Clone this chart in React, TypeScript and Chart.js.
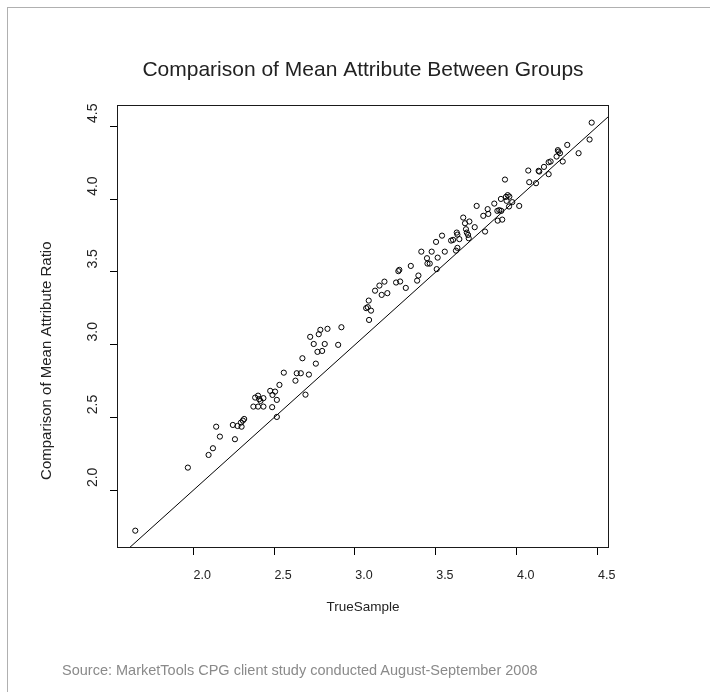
import React, { useEffect, useRef } from "react";
import { Chart, registerables } from "chart.js";

Chart.register(...registerables);

const trueSample: number[] = [
  1.642, 1.967, 2.095, 2.122, 2.142, 2.165, 2.258, 2.245, 2.274, 2.299,
  2.295, 2.307, 2.315, 2.372, 2.401, 2.434, 2.383, 2.401, 2.408, 2.416,
  2.434, 2.476, 2.490, 2.506, 2.517, 2.488, 2.517, 2.533, 2.560, 2.632,
  2.640, 2.665, 2.715, 2.694, 2.675, 2.758, 2.723, 2.745, 2.768, 2.776,
  2.786, 2.797, 2.813, 2.830, 2.896, 2.916, 3.087, 3.069, 3.079, 3.099,
  3.085, 3.124, 3.151, 3.165, 3.182, 3.200, 3.254, 3.279, 3.268, 3.274,
  3.314, 3.345, 3.384, 3.392, 3.410, 3.445, 3.448, 3.462, 3.474, 3.505,
  3.511, 3.501, 3.538, 3.555, 3.594, 3.606, 3.629, 3.633, 3.645, 3.624,
  3.633, 3.669, 3.680, 3.686, 3.691, 3.699, 3.703, 3.707, 3.740, 3.752,
  3.793, 3.804, 3.820, 3.824, 3.861, 3.880, 3.892, 3.904, 3.882, 3.910,
  3.902, 3.927, 3.933, 3.944, 3.954, 3.937, 3.952, 3.972, 4.015, 4.071,
  4.077, 4.119, 4.135, 4.139, 4.168, 4.197, 4.197, 4.209, 4.246, 4.254,
  4.258, 4.267, 4.284, 4.312, 4.382, 4.450, 4.463,
];

const attributeRatio: number[] = [
  1.723, 2.156, 2.243, 2.289, 2.437, 2.369, 2.351, 2.449, 2.442, 2.437,
  2.465, 2.479, 2.490, 2.575, 2.575, 2.575, 2.637, 2.650, 2.626, 2.614,
  2.633, 2.683, 2.655, 2.678, 2.621, 2.571, 2.504, 2.724, 2.808, 2.753,
  2.804, 2.804, 2.795, 2.657, 2.907, 2.870, 3.054, 3.005, 2.951, 3.072,
  3.102, 2.957, 3.005, 3.109, 2.999, 3.120, 3.170, 3.251, 3.258, 3.234,
  3.303, 3.371, 3.406, 3.342, 3.433, 3.354, 3.427, 3.434, 3.505, 3.514,
  3.390, 3.541, 3.440, 3.475, 3.639, 3.594, 3.557, 3.557, 3.639, 3.519,
  3.598, 3.706, 3.749, 3.639, 3.715, 3.720, 3.770, 3.756, 3.725, 3.646,
  3.665, 3.873, 3.834, 3.793, 3.770, 3.754, 3.731, 3.846, 3.807, 3.953,
  3.885, 3.777, 3.931, 3.898, 3.969, 3.919, 3.924, 3.919, 3.852, 3.859,
  4.001, 4.134, 4.015, 4.027, 4.017, 3.988, 3.949, 3.979, 3.953, 4.196,
  4.116, 4.109, 4.194, 4.189, 4.221, 4.171, 4.253, 4.258, 4.292, 4.336,
  4.326, 4.315, 4.258, 4.372, 4.315, 4.409, 4.525,
];

const xTicks: number[] = [2.0, 2.5, 3.0, 3.5, 4.0, 4.5];
const yTicks: number[] = [2.0, 2.5, 3.0, 3.5, 4.0, 4.5];
const identityLine: number[] = [1.0, 5.0];

const xRange: number[] = [1.529, 4.570];
const yRange: number[] = [1.604, 4.646];

const chartTitle = "Comparison of Mean Attribute Between Groups";
const xTitle = "TrueSample";
const yTitle = "Comparison of Mean Attribute Ratio";
const sourceNote = "Source: MarketTools CPG client study conducted August-September 2008";

const FONT = "'Liberation Sans', Arial, Helvetica, sans-serif";

const boxPlugin = {
  id: "plotBox",
  afterDraw(chart: any) {
    const { ctx, chartArea } = chart;
    ctx.save();
    ctx.strokeStyle = "#1a1a1a";
    ctx.lineWidth = 1;
    const l = Math.round(chartArea.left) + 0.5;
    const t = Math.round(chartArea.top) + 0.5;
    const r = Math.round(chartArea.right) - 0.5;
    const b = Math.round(chartArea.bottom) - 0.5;
    ctx.strokeRect(l, t, r - l, b - t);

    const yScale = chart.scales.y;
    ctx.fillStyle = "#222";
    ctx.textAlign = "center";
    ctx.textBaseline = "middle";
    // rotated y tick labels
    ctx.font = `14px ${FONT}`;
    yTicks.forEach((v) => {
      const py = yScale.getPixelForValue(v);
      ctx.save();
      ctx.translate(93, py - 13);
      ctx.rotate(-Math.PI / 2);
      ctx.fillText(v.toFixed(1), 0, 0);
      ctx.restore();
    });
    // y axis title
    ctx.font = `15px ${FONT}`;
    const midY = yScale.getPixelForValue(2.89);
    ctx.save();
    ctx.translate(47, midY);
    ctx.rotate(-Math.PI / 2);
    ctx.fillText(yTitle, 0, 0);
    ctx.restore();
    ctx.restore();
  },
};

export default function App() {
  const canvasRef = useRef<HTMLCanvasElement | null>(null);

  useEffect(() => {
    const canvas = canvasRef.current;
    if (!canvas) return;
    const points = trueSample.map((x, i) => ({ x, y: attributeRatio[i] }));
    const linePts = identityLine.map((v) => ({ x: v, y: v }));

    const chart = new Chart(canvas, {
      type: "scatter",
      data: {
        datasets: [
          {
            data: points,
            pointStyle: "circle",
            pointRadius: 2.6,
            pointBorderWidth: 1,
            pointBorderColor: "#000",
            pointBackgroundColor: "rgba(0,0,0,0)",
            borderColor: "#000",
            backgroundColor: "rgba(0,0,0,0)",
            showLine: false,
          },
          {
            type: "line",
            data: linePts,
            borderColor: "#000",
            borderWidth: 1,
            pointRadius: 0,
            fill: false,
          } as any,
        ],
      },
      options: {
        animation: false,
        responsive: false,
        devicePixelRatio: 1,
        events: [],
        layout: { padding: { left: 0, right: 101, top: 0, bottom: 0 } },
        plugins: {
          legend: { display: false },
          tooltip: { enabled: false },
          title: {
            display: true,
            text: chartTitle,
            fullSize: false,
            color: "#222",
            font: { family: FONT, size: 21, weight: "normal" as any },
            padding: { top: 58, bottom: 21.8 },
          },
        },
        scales: {
          x: {
            type: "linear",
            position: "bottom",
            min: xRange[0],
            max: xRange[1],
            afterBuildTicks: (scale: any) => {
              scale.ticks = xTicks.map((v) => ({ value: v }));
            },
            afterFit: (scale: any) => {
              scale.height = 144;
              scale.paddingLeft = 0;
              scale.paddingRight = 0;
            },
            ticks: {
              color: "#222",
              font: { family: FONT, size: 12.5 },
              padding: 13,
              labelOffset: 9,
              maxRotation: 0,
              minRotation: 0,
              callback: (v: any) => Number(v).toFixed(1),
            },
            grid: {
              display: true,
              drawOnChartArea: false,
              drawTicks: true,
              tickLength: 7,
              color: "#000",
              lineWidth: 1,
            },
            border: { display: false },
            title: {
              display: true,
              text: xTitle,
              color: "#222",
              font: { family: FONT, size: 13.5 },
              padding: { top: 0, bottom: 77 },
            },
          },
          y: {
            type: "linear",
            position: "left",
            min: yRange[0],
            max: yRange[1],
            afterBuildTicks: (scale: any) => {
              scale.ticks = yTicks.map((v) => ({ value: v }));
            },
            afterFit: (scale: any) => {
              scale.width = 117;
              scale.paddingTop = 0;
              scale.paddingBottom = 0;
            },
            ticks: { display: false },
            grid: {
              display: true,
              drawOnChartArea: false,
              drawTicks: true,
              tickLength: 7,
              color: "#000",
              lineWidth: 1,
            },
            border: { display: false },
            title: { display: false },
          },
        },
      },
      plugins: [boxPlugin],
    });
    return () => chart.destroy();
  }, []);

  return (
    <div>
      <div
        style={{
          position: "absolute",
          left: 7,
          top: 7,
          width: 703,
          height: 685,
          borderTop: "1px solid #b0b0b0",
          borderLeft: "1px solid #b0b0b0",
          boxSizing: "border-box",
        }}
      />
      <canvas
        ref={canvasRef}
        width={710}
        height={692}
        style={{ position: "absolute", left: 0, top: 0, width: 710, height: 692 }}
      />
      <div
        style={{
          position: "absolute",
          left: 62,
          top: 662,
          fontFamily: FONT,
          fontSize: 14.5,
          color: "#8a8a8a",
          whiteSpace: "nowrap",
        }}
      >
        {sourceNote}
      </div>
    </div>
  );
}
